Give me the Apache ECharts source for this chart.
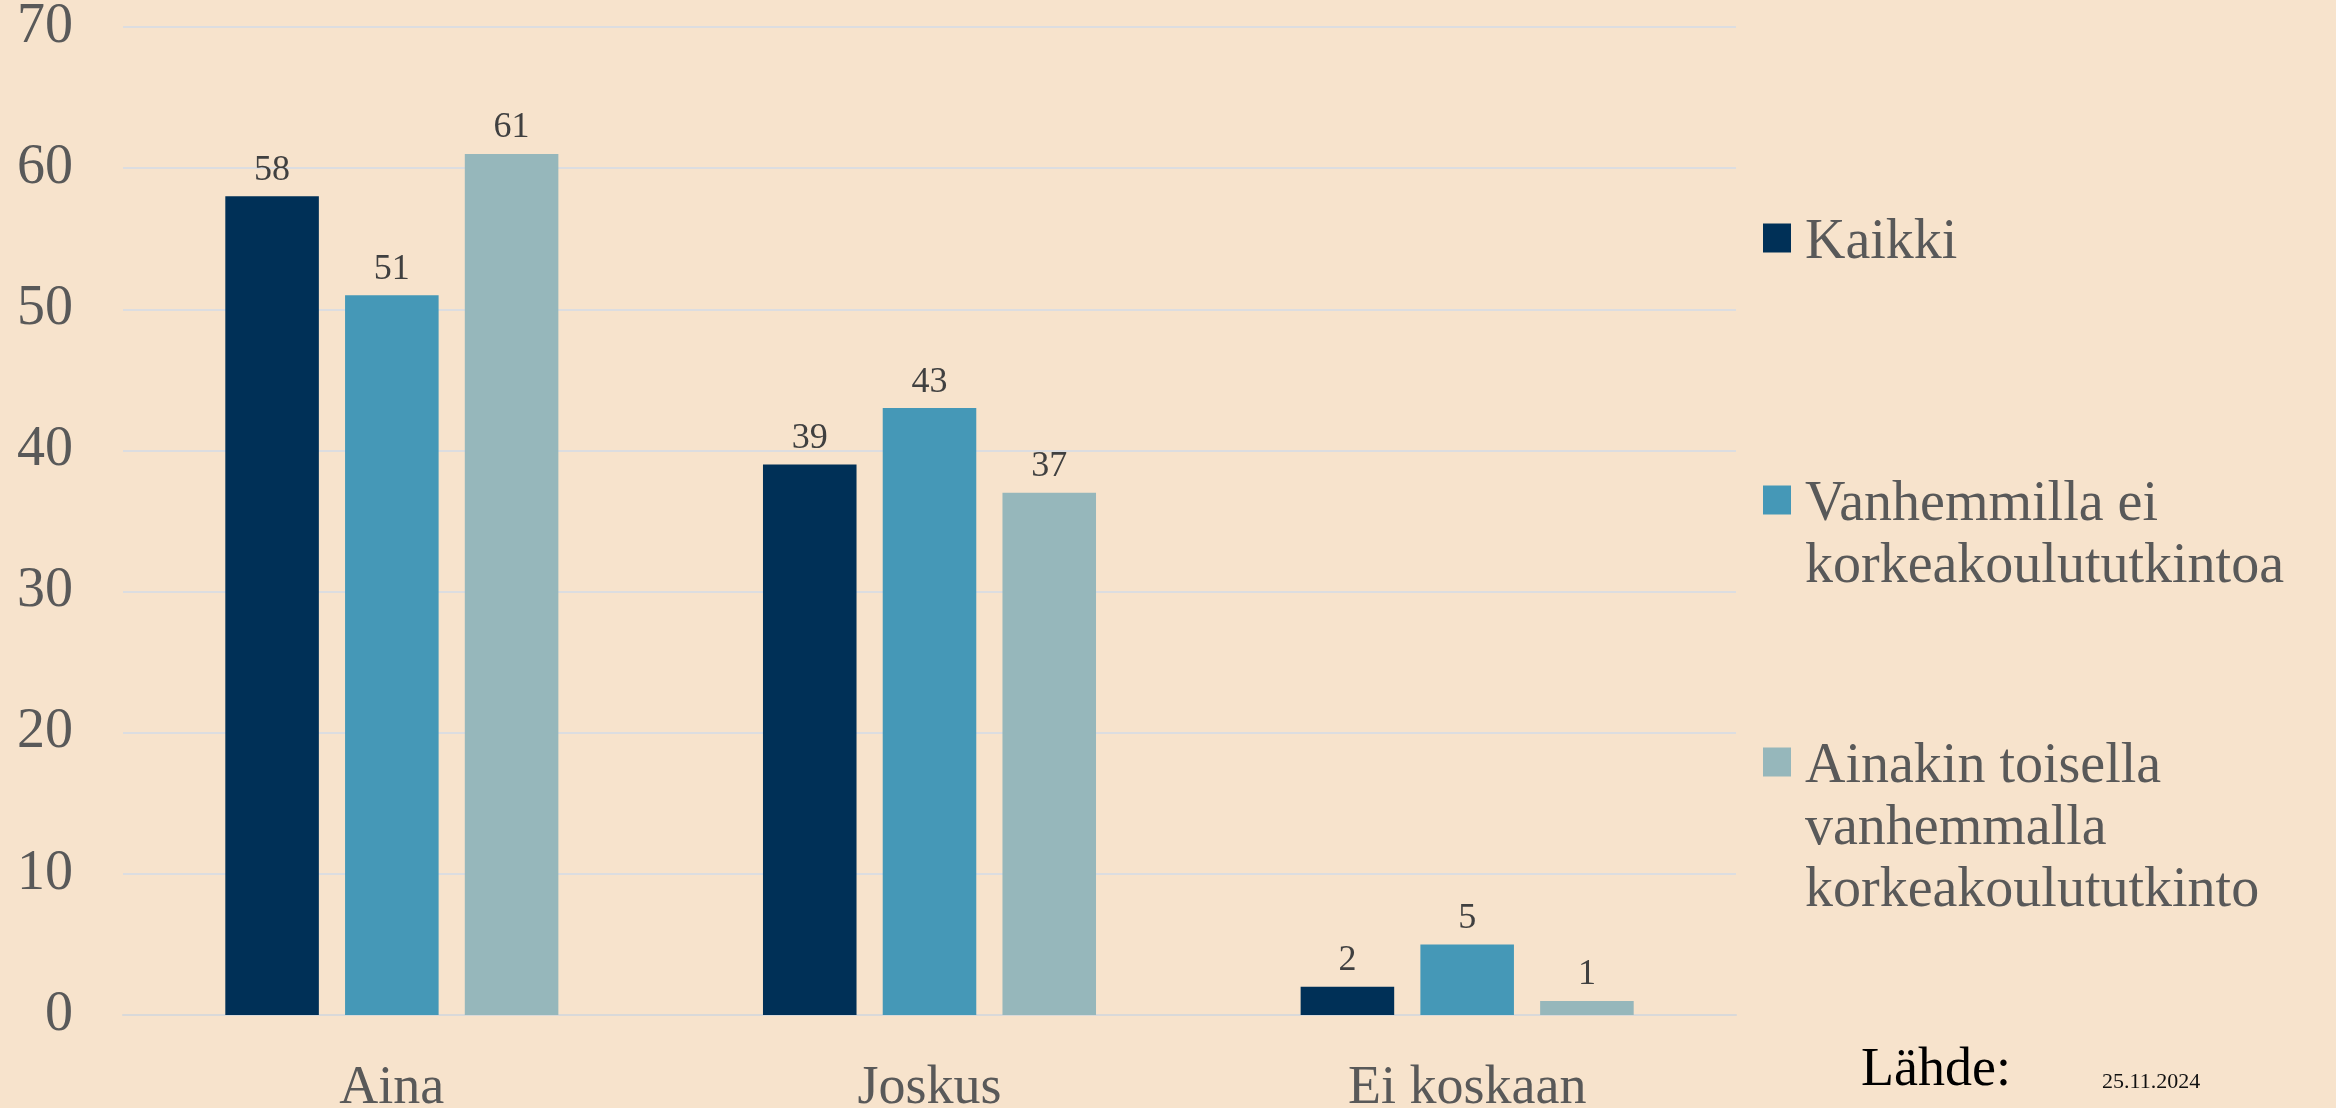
<!DOCTYPE html>
<html>
<head>
<meta charset="utf-8">
<script src="https://cdn.jsdelivr.net/npm/echarts@6/dist/echarts.min.js"></script>
<style>
html,body{margin:0;padding:0;background:#F7E3CC;}
#c{width:2336px;height:1108px;}
</style>
</head>
<body>
<div id="c"></div>
<script>
const categories = ['Aina', 'Joskus', 'Ei koskaan'];
const seriesNames = ['Kaikki', 'Vanhemmilla ei korkeakoulututkintoa', 'Ainakin toisella vanhemmalla korkeakoulututkinto'];
const legendLabels = ['Kaikki', 'Vanhemmilla ei\nkorkeakoulututkintoa', 'Ainakin toisella\nvanhemmalla\nkorkeakoulututkinto'];
const kaikki = [58, 39, 2];
const eiKorkea = [51, 43, 5];
const korkea = [61, 37, 1];
const yTicks = [0, 10, 20, 30, 40, 50, 60, 70];
const colors = ['#003057', '#4598B7', '#96B7BB'];
const sourceText = 'Lähde:';
const dateText = '25.11.2024';

const FONT = '"Liberation Serif", "DejaVu Serif", serif';
const LH = 62;
const SP = 10;
const values = [kaikki, eiKorkea, korkea];

// icon centres wanted at about 238, 500, 762 px
const legendTops = [202, 402, 602];
const legends = seriesNames.map((n, i) => {
  const lines = legendLabels[i].split('\n');
  // spacer + leading empty lines so that the icon lines up with the first text line
  const parts = ['{s| }'].concat(new Array(lines.length - 1).fill('{e| }'), lines.map(l => '{t|' + l + '}'));
  const label = parts.join('\n');
  return {
    show: true,
    orient: 'vertical',
    left: 1763,
    top: legendTops[i],
    padding: 0,
    itemWidth: 28,
    itemHeight: 29,
    icon: 'rect',
    data: [n],
    selectedMode: false,
    formatter: () => label,
    textStyle: {
      fontFamily: FONT,
      fontSize: 56,
      color: '#595959',
      lineHeight: LH,
      padding: [0, 0, 0, 9],
      rich: {
        s: {fontFamily: FONT, fontSize: 4, lineHeight: SP},
        e: {fontFamily: FONT, fontSize: 56, lineHeight: LH},
        t: {fontFamily: FONT, fontSize: 56, lineHeight: LH, color: '#595959'}
      }
    }
  };
});

const chart = echarts.init(document.getElementById('c'), null, {renderer: 'canvas'});
chart.setOption({
  backgroundColor: '#F7E3CC',
  animation: false,
  color: colors,
  textStyle: {fontFamily: FONT},
  grid: {left: 123, right: 600, top: 27, bottom: 93, containLabel: false, outerBoundsMode: 'none'},
  legend: legends,
  xAxis: {
    type: 'category',
    data: categories,
    axisTick: {show: false},
    axisLine: {show: true, lineStyle: {color: '#D9D9D9', width: 2}},
    axisLabel: {fontFamily: FONT, fontSize: 54, color: '#595959', margin: 47}
  },
  yAxis: {
    type: 'value',
    min: yTicks[0],
    max: yTicks[yTicks.length - 1],
    interval: yTicks[1] - yTicks[0],
    axisLine: {show: false},
    axisTick: {show: false},
    splitLine: {lineStyle: {color: '#DCDDE0', width: 2}},
    axisLabel: {fontFamily: FONT, fontSize: 56, color: '#595959', margin: 50}
  },
  series: seriesNames.map((n, i) => ({
    name: n,
    type: 'bar',
    data: values[i],
    barWidth: '17.4%',
    barGap: '28%',
    itemStyle: {color: colors[i]},
    label: {
      show: true,
      position: 'top',
      distance: 8,
      fontFamily: FONT,
      fontSize: 36,
      color: '#404040'
    }
  })),
  graphic: [
    {type: 'text', left: 1861, top: 1044, style: {text: sourceText, font: '54px ' + FONT, fill: '#000000'}},
    {type: 'text', left: 2102, top: 1071, style: {text: dateText, font: '22px ' + FONT, fill: '#111111'}}
  ]
});
</script>
</body>
</html>
